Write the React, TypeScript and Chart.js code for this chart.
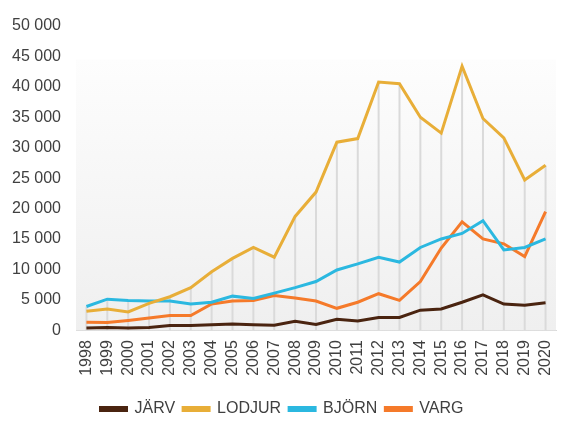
import React, { useEffect, useRef } from "react";
import { Chart, registerables } from "chart.js";

Chart.register(...registerables);

const years = ["1998","1999","2000","2001","2002","2003","2004","2005","2006","2007","2008","2009","2010","2011","2012","2013","2014","2015","2016","2017","2018","2019","2020"];
const jarv = [350, 450, 350, 450, 780, 780, 880, 1000, 900, 800, 1450, 950, 1800, 1500, 2100, 2100, 3300, 3500, 4600, 5800, 4300, 4100, 4500];
const lodjur = [3100, 3500, 3000, 4400, 5500, 7000, 9600, 11800, 13600, 12000, 18700, 22700, 30900, 31500, 40800, 40500, 35000, 32400, 43400, 34800, 31600, 24700, 27100];
const bjorn = [3900, 5100, 4900, 4800, 4800, 4300, 4600, 5600, 5200, 6100, 7000, 8000, 9900, 10900, 12000, 11200, 13600, 15000, 15900, 18000, 13200, 13600, 15000];
const varg = [1300, 1250, 1600, 2000, 2400, 2400, 4300, 4800, 4900, 5700, 5300, 4800, 3600, 4600, 6000, 4900, 8000, 13500, 17800, 15000, 14200, 12100, 19500];
const seriesNames = ["JÄRV", "LODJUR", "BJÖRN", "VARG"];
const seriesColors = ["#4a2410", "#e8ae38", "#2bb8e0", "#f57a2a"];

const fmt = (v: number) => String(v).replace(/\B(?=(\d{3})+(?!\d))/g, " ");
const FONT = "'Liberation Sans', Arial, sans-serif";

const bgPlugin = {
  id: "bgGrad",
  beforeDatasetsDraw(chart: any) {
    const { ctx, chartArea } = chart;
    const { left, right, top, bottom } = chartArea;
    const start = top + (bottom - top) * 0.11;
    const g = ctx.createLinearGradient(0, start, 0, bottom);
    g.addColorStop(0, "#fdfdfd");
    g.addColorStop(1, "#efefef");
    ctx.save();
    ctx.fillStyle = g;
    ctx.fillRect(left, start, right - left, bottom - start);
    const xs = chart.scales.x;
    const ys = chart.scales.y;
    ctx.strokeStyle = "#dadada";
    ctx.lineWidth = 2;
    for (let i = 0; i < years.length; i++) {
      const maxV = Math.max(jarv[i], lodjur[i], bjorn[i], varg[i]);
      const x = xs.getPixelForValue(i);
      ctx.beginPath();
      ctx.moveTo(x, ys.getPixelForValue(maxV));
      ctx.lineTo(x, ys.getPixelForValue(0));
      ctx.stroke();
    }
    ctx.restore();
  },
};

export default function App() {
  const ref = useRef<HTMLCanvasElement>(null);
  useEffect(() => {
    if (!ref.current) return;
    const data = [jarv, lodjur, bjorn, varg];
    const chart = new Chart(ref.current, {
      type: "line",
      data: {
        labels: years,
        datasets: data.map((d, i) => ({
          label: seriesNames[i],
          data: d,
          borderColor: seriesColors[i],
          backgroundColor: seriesColors[i],
          borderWidth: 3,
          pointRadius: 0,
          tension: 0,
          fill: false,
        })),
      },
      options: {
        animation: false,
        responsive: true,
        maintainAspectRatio: false,
        layout: { padding: { left: 0, right: 17, top: 0, bottom: 0 } },
        plugins: {
          legend: {
            position: "bottom",
            title: { display: true, text: "", padding: 0, font: { size: 6 } },
            labels: {
              boxWidth: 26,
              boxHeight: 3,
              padding: 8,
              color: "#404040",
              font: { family: FONT, size: 16 },
            },
          },
          tooltip: { enabled: false },
        },
        scales: {
          x: {
            offset: true,
            grid: { display: false, drawTicks: false },
            border: { display: true, color: "#d9d9d9", width: 1 },
            ticks: {
              minRotation: 90,
              maxRotation: 90,
              padding: 10,
              autoSkip: false,
              color: "#404040",
              font: { family: FONT, size: 16 },
            },
            afterFit: (s: any) => {
              s.paddingLeft = 0;
              s.paddingRight = 0;
            },
          },
          y: {
            min: 0,
            max: 50000,
            grid: { display: false, drawTicks: false },
            border: { display: false },
            ticks: {
              stepSize: 5000,
              padding: 15,
              color: "#404040",
              font: { family: FONT, size: 16 },
              callback: (v: any) => fmt(Number(v)),
            },
            afterFit: (s: any) => {
              s.width = 68;
              s.paddingTop = 18;
              s.paddingBottom = 0;
            },
          },
        },
      },
      plugins: [bgPlugin],
    });
    return () => chart.destroy();
  }, []);
  return (
    <div style={{ position: "fixed", left: 8, top: 8, width: 565, height: 419 }}>
      <canvas ref={ref} />
    </div>
  );
}
